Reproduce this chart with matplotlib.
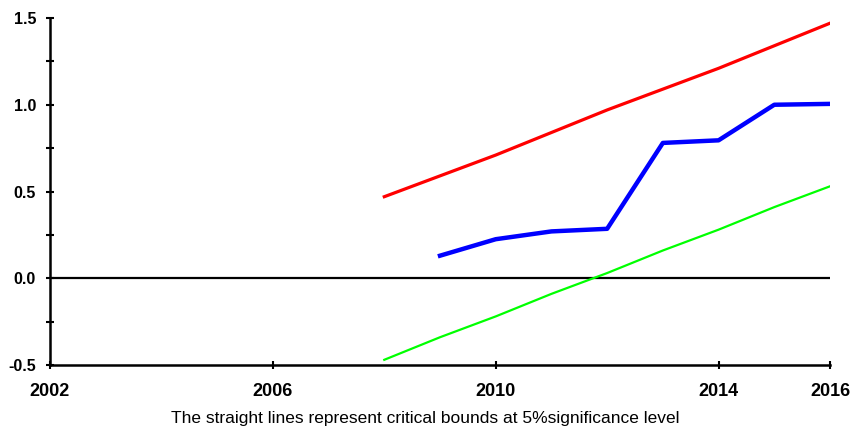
import matplotlib
matplotlib.use("Agg")
import matplotlib.pyplot as plt
from matplotlib.ticker import MultipleLocator
from matplotlib.font_manager import FontProperties

# CUSUM of squares with 5% critical bounds
years = [2008, 2009, 2010, 2011, 2012, 2013, 2014, 2015, 2016]
upper = [0.47, 0.59, 0.71, 0.84, 0.97, 1.09, 1.21, 1.34, 1.47]
lower = [-0.47, -0.34, -0.22, -0.09, 0.03, 0.16, 0.28, 0.41, 0.53]

cusum_years = [2009, 2010, 2011, 2012, 2013, 2014, 2015, 2016]
cusum_sq = [0.13, 0.225, 0.27, 0.285, 0.78, 0.795, 1.0, 1.005]

x_ticks = [2002, 2006, 2010, 2014, 2016]
caption = "The straight lines represent critical bounds at 5%significance level"

fig = plt.figure(figsize=(8.51, 4.29), dpi=100)
ax = fig.add_axes([50 / 851, 64 / 429, 780 / 851, 347 / 429])

ax.axhline(0, color="black", lw=1.6, zorder=1)
ax.plot(years, upper, color="#ff0000", lw=2.3, zorder=2)
ax.plot(years, lower, color="#00ff00", lw=1.6, zorder=2)
ax.plot(cusum_years, cusum_sq, color="#0000ff", lw=3.2, zorder=3)

ax.set_xlim(2002, 2016)
ax.set_ylim(-0.5, 1.5)
ax.set_xticks(x_ticks)
ax.set_xticklabels([str(y) for y in x_ticks])
ax.yaxis.set_major_locator(MultipleLocator(0.5))
ax.yaxis.set_minor_locator(MultipleLocator(0.25))
ax.yaxis.set_major_formatter(plt.FuncFormatter(lambda v, p: f"{v:.1f}"))

for side in ["top", "right"]:
    ax.spines[side].set_visible(False)
for side in ["left", "bottom"]:
    ax.spines[side].set_linewidth(1.8)

ax.tick_params(which="both", direction="inout", length=6, width=1.5)
ax.tick_params(axis="x", pad=10)
ax.tick_params(axis="y", pad=7)
for lbl in ax.get_xticklabels():
    lbl.set_fontproperties(FontProperties(family="Liberation Sans", weight="bold", size=13))
for lbl in ax.get_yticklabels():
    lbl.set_fontproperties(FontProperties(family="Liberation Sans", weight="bold", size=11.5))

fig.text(0.5, 1 - 418 / 429, caption, ha="center", va="center", fontsize=12.5,
         family=["Liberation Sans Narrow", "Liberation Sans"])

fig.savefig("out.png", dpi=100)
